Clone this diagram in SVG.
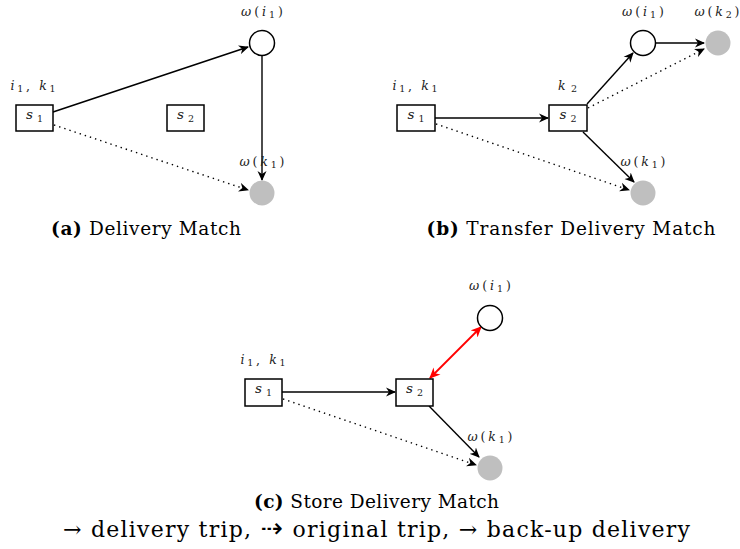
<svg xmlns="http://www.w3.org/2000/svg" width="740" height="549" viewBox="0 0 740 549">
  <style>
    .box { fill: #fff; stroke: #000; stroke-width: 1.5; }
    .open { fill: #fff; stroke: #000; stroke-width: 1.5; }
    .grey { fill: #bfbfbf; stroke: none; }
    .edge { fill: none; stroke: #000; stroke-width: 1.4; marker-end: url(#arr); }
    .dot { fill: none; stroke: #000; stroke-width: 1.4; stroke-dasharray: 1.4 4; marker-end: url(#arr); }
    .red { fill: none; stroke: #f00; stroke-width: 1.8; marker-start: url(#arrR); marker-end: url(#arrR); }
    .m { font-family: "DejaVu Serif", "Liberation Serif", serif; font-style: italic; font-size: 12.5px; fill: #222; text-anchor: middle; }
    .m .n { font-style: normal; }
    .m .sub { font-style: normal; font-size: 9.5px; }
    .in { font-size: 13.5px; }
    .cap { font-family: "DejaVu Serif", "Liberation Serif", serif; font-size: 18.5px; fill: #000; text-anchor: middle; }
    .leg { font-family: "DejaVu Serif", "Liberation Serif", serif; font-size: 22px; fill: #000; text-anchor: middle; }
  </style>
  <defs>
    <marker id="arr" viewBox="0 0 10 10" refX="9" refY="5" markerWidth="10" markerHeight="10" markerUnits="userSpaceOnUse" orient="auto-start-reverse">
      <path d="M0,0.5 L10,5 L0,9.5 L3,5 z" fill="#000"/>
    </marker>
    <marker id="arrR" viewBox="0 0 10 10" refX="9" refY="5" markerWidth="11" markerHeight="11" markerUnits="userSpaceOnUse" orient="auto-start-reverse">
      <path d="M0,0.5 L10,5 L0,9.5 L3,5 z" fill="#f00"/>
    </marker>
  </defs>

  <!-- (a) Delivery Match -->
  <g id="a-connectors">
    <line class="edge" x1="53" y1="112" x2="248" y2="47"/>
    <line class="edge" x1="262" y1="56" x2="262" y2="180"/>
    <line class="dot" x1="54" y1="125" x2="248" y2="190"/>
  </g>
  <g id="a-s1">
    <rect class="box" x="16" y="105" width="37" height="26"/>
    <text class="m in" x="34.5" y="119" textLength="17">s<tspan class="sub" dy="3">1</tspan></text>
    <text class="m" x="33" y="90" textLength="45">i<tspan class="sub" dy="2">1</tspan><tspan class="n" dy="-2">, </tspan>k<tspan class="sub" dy="2">1</tspan></text>
  </g>
  <g id="a-s2">
    <rect class="box" x="167" y="105" width="37" height="26"/>
    <text class="m in" x="185.5" y="119" textLength="17">s<tspan class="sub" dy="3">2</tspan></text>
  </g>
  <g id="a-wi1">
    <circle class="open" cx="262" cy="43" r="12.5"/>
    <text class="m" x="262" y="16" textLength="42">ω<tspan class="n">(</tspan>i<tspan class="sub" dy="2">1</tspan><tspan class="n" dy="-2">)</tspan></text>
  </g>
  <g id="a-wk1">
    <circle class="grey" cx="262" cy="193" r="12.5"/>
    <text class="m" x="262" y="166" textLength="45">ω<tspan class="n">(</tspan>k<tspan class="sub" dy="2">1</tspan><tspan class="n" dy="-2">)</tspan></text>
  </g>
  <text class="cap" x="146" y="235" textLength="190" lengthAdjust="spacing"><tspan font-weight="bold">(a)</tspan> Delivery Match</text>

  <!-- (b) Transfer Delivery Match -->
  <g id="b-connectors">
    <line class="edge" x1="435" y1="118" x2="548" y2="118"/>
    <line class="edge" x1="587" y1="104" x2="633" y2="53"/>
    <line class="edge" x1="656" y1="43" x2="704" y2="43"/>
    <line class="dot" x1="588" y1="108" x2="704" y2="49"/>
    <line class="edge" x1="583" y1="132" x2="634" y2="182"/>
    <line class="dot" x1="436" y1="124" x2="629" y2="190"/>
  </g>
  <g id="b-s1">
    <rect class="box" x="397" y="105" width="38" height="26"/>
    <text class="m in" x="416" y="119" textLength="17">s<tspan class="sub" dy="3">1</tspan></text>
    <text class="m" x="415" y="90" textLength="45">i<tspan class="sub" dy="2">1</tspan><tspan class="n" dy="-2">, </tspan>k<tspan class="sub" dy="2">1</tspan></text>
  </g>
  <g id="b-s2">
    <rect class="box" x="549" y="105" width="38" height="26"/>
    <text class="m in" x="568" y="119" textLength="17">s<tspan class="sub" dy="3">2</tspan></text>
    <text class="m" x="567.5" y="90" textLength="19">k<tspan class="sub" dy="2">2</tspan></text>
  </g>
  <g id="b-wi1">
    <circle class="open" cx="643" cy="43" r="12.5"/>
    <text class="m" x="643" y="16" textLength="42">ω<tspan class="n">(</tspan>i<tspan class="sub" dy="2">1</tspan><tspan class="n" dy="-2">)</tspan></text>
  </g>
  <g id="b-wk2">
    <circle class="grey" cx="718" cy="43" r="12.5"/>
    <text class="m" x="717" y="16" textLength="45">ω<tspan class="n">(</tspan>k<tspan class="sub" dy="2">2</tspan><tspan class="n" dy="-2">)</tspan></text>
  </g>
  <g id="b-wk1">
    <circle class="grey" cx="643" cy="193" r="12.5"/>
    <text class="m" x="643" y="166" textLength="45">ω<tspan class="n">(</tspan>k<tspan class="sub" dy="2">1</tspan><tspan class="n" dy="-2">)</tspan></text>
  </g>
  <text class="cap" x="571" y="235" textLength="289" lengthAdjust="spacing"><tspan font-weight="bold">(b)</tspan> Transfer Delivery Match</text>

  <!-- (c) Store Delivery Match -->
  <g id="c-connectors">
    <line class="edge" x1="282" y1="392" x2="395" y2="392"/>
    <line class="red" x1="430" y1="378" x2="481" y2="327"/>
    <line class="edge" x1="429" y1="406" x2="479" y2="457"/>
    <line class="dot" x1="283" y1="399" x2="476" y2="465"/>
  </g>
  <g id="c-s1">
    <rect class="box" x="245" y="379" width="37" height="27"/>
    <text class="m in" x="263.5" y="393" textLength="17">s<tspan class="sub" dy="3">1</tspan></text>
    <text class="m" x="263" y="364" textLength="45">i<tspan class="sub" dy="2">1</tspan><tspan class="n" dy="-2">, </tspan>k<tspan class="sub" dy="2">1</tspan></text>
  </g>
  <g id="c-s2">
    <rect class="box" x="396" y="379" width="37" height="27"/>
    <text class="m in" x="414.5" y="393" textLength="17">s<tspan class="sub" dy="3">2</tspan></text>
  </g>
  <g id="c-wi1">
    <circle class="open" cx="490" cy="318" r="12.5"/>
    <text class="m" x="490" y="290" textLength="42">ω<tspan class="n">(</tspan>i<tspan class="sub" dy="2">1</tspan><tspan class="n" dy="-2">)</tspan></text>
  </g>
  <g id="c-wk1">
    <circle class="grey" cx="490" cy="468" r="12.5"/>
    <text class="m" x="490" y="441" textLength="45">ω<tspan class="n">(</tspan>k<tspan class="sub" dy="2">1</tspan><tspan class="n" dy="-2">)</tspan></text>
  </g>
  <text class="cap" x="376.5" y="508" textLength="245" lengthAdjust="spacing"><tspan font-weight="bold">(c)</tspan> Store Delivery Match</text>

  <!-- legend -->
  <text class="leg" x="376.5" y="537" textLength="627" lengthAdjust="spacing">→ delivery trip, <tspan font-family="DejaVu Sans, sans-serif" font-size="27">⇢</tspan> original trip, → back-up delivery</text>
</svg>
